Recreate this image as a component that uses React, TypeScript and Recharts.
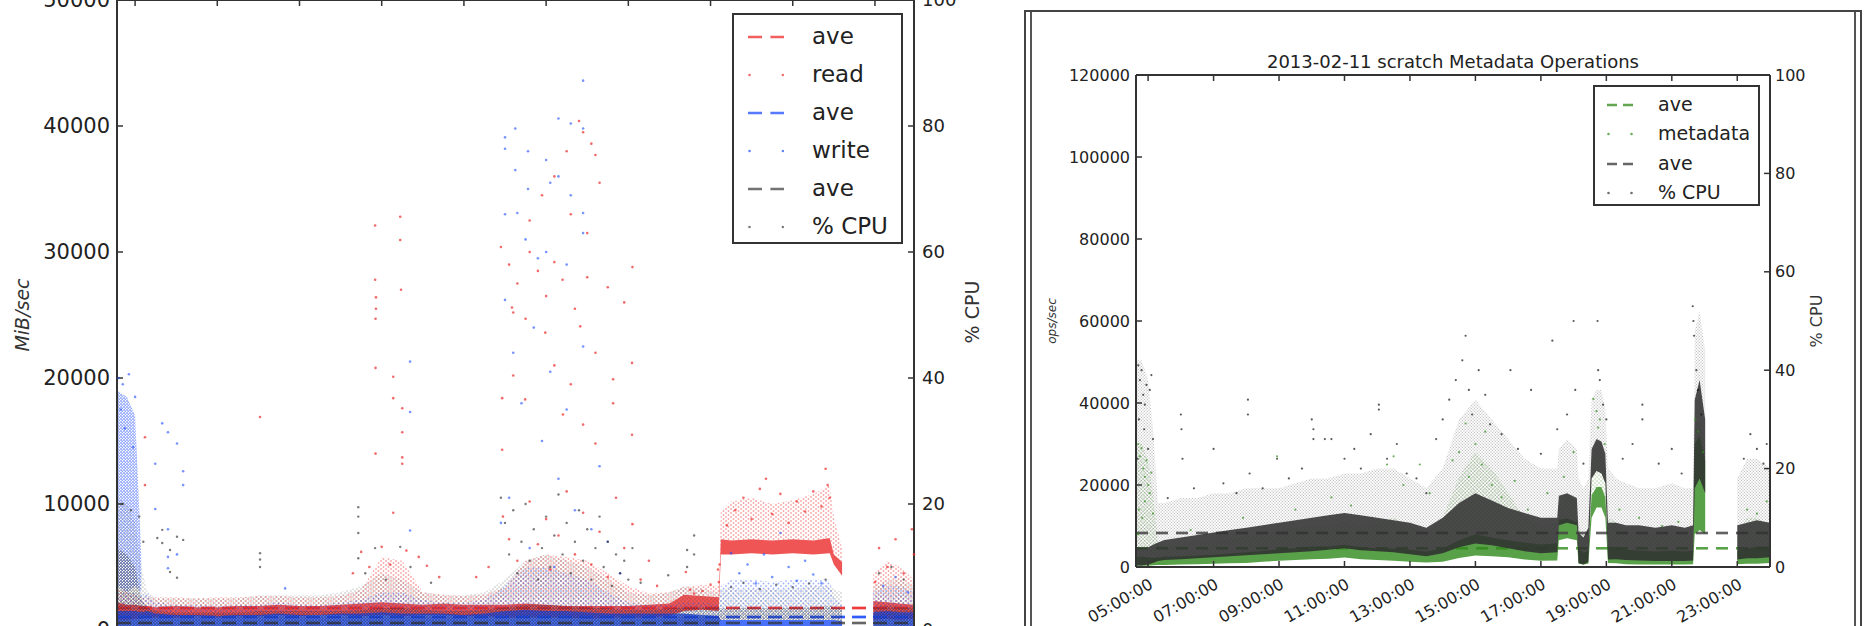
import { ComposedChart, Area, Scatter, XAxis, YAxis } from 'recharts';

const FONT = '"DejaVu Sans", sans-serif';
const INK = '#222';
const SPINE = '#333';

const RED = '#ec2a2a';
const BLUE = '#1d4dfa';
const GREEN = '#2f8a1a';

const HOUR_TICKS = [5, 7, 9, 11, 13, 15, 17, 19, 21, 23];
const MIB_TICKS = [0, 10000, 20000, 30000, 40000, 50000];
const OPS_TICKS = [0, 20000, 40000, 60000, 80000, 100000, 120000];
const CPU_TICKS = [0, 20, 40, 60, 80, 100];

// ---------- left panel: I/O (MiB/sec) and % CPU, hours of the day ----------
const L_T = [
  4.56, 4.8, 5.0, 5.15, 5.3, 5.5,
  6, 6.5, 7, 7.5, 8, 8.5,
  9, 9.5, 10, 10.5, 11, 11.5,
  12, 12.5, 13, 13.5, 14, 14.5,
  15, 15.5, 16, 16.5, 17, 17.5,
  18, 18.35, 18.8, 19.2, 19.25, 19.5,
  20, 20.5, 21, 21.5, 21.9, 22.0,
  22.2, 22.5, 22.96, 23.3, 23.6, 23.95,
];
const L_READ_LO = [
  800, 800, 900, 900, 1000, 1000,
  1000, 1100, 1000, 1100, 1100, 1200,
  1100, 1200, 1200, 1100, 1200, 1100,
  1200, 1200, 1100, 1100, 1000, 1000,
  1000, 1000, 900, 1000, 1000, 1000,
  1100, 1500, 1600, 1500, 6000, 6000,
  6100, 6000, 6100, 6000, 6100, 5200,
  4300, null, 800, 900, 800, 900,
];
const L_READ_HI = [
  2200, 2000, 2000, 1900, 1900, 1800,
  1900, 1800, 1800, 1900, 1900, 2000,
  1900, 1900, 2000, 2100, 2200, 2100,
  2000, 2100, 2000, 2000, 2000, 2100,
  2000, 1900, 1900, 1900, 1900, 2000,
  2100, 2800, 2700, 2600, 7200, 7100,
  7200, 7100, 7200, 7100, 7300, 6000,
  5400, null, 2300, 2200, 2100, 2000,
];
const L_READ_SPARSE = [
  3200, 3000, 2800, 2600, 2600, 2600,
  2600, 2500, 2600, 2600, 2700, 2700,
  2600, 2600, 2700, 3200, 5800, 5500,
  3000, 2800, 2700, 2800, 3400, 5500,
  6000, 5800, 5500, 4500, 3500, 2900,
  3000, 3400, 3600, 3500, 9500, 10200,
  10500, 10000, 10300, 10800, 11500, 9000,
  6500, null, 4500, 5500, 5000, 4000,
];
const L_WRITE_HI = [
  1500, 1500, 1500, 1400, 1500, 1300,
  1200, 1200, 1100, 1200, 1200, 1300,
  1200, 1200, 1300, 1300, 1400, 1300,
  1300, 1300, 1200, 1300, 1500, 1600,
  1500, 1500, 1400, 1300, 1300, 1300,
  1300, 1300, 1200, 1100, 800, 800,
  800, 800, 800, 800, 800, 800,
  700, null, 1400, 1500, 1400, 1400,
];
const L_WRITE_SPARSE = [
  3000, 3000, 3000, 2800, 3000, 2200,
  2000, 2000, 1900, 2000, 2000, 2200,
  2000, 2000, 2200, 2400, 3000, 3000,
  2400, 2200, 2200, 2400, 3500, 5000,
  5000, 4500, 4000, 3000, 2200, 2000,
  2000, 2200, 2200, 2000, 3500, 4000,
  4000, 3800, 4000, 4000, 4000, 2500,
  2000, null, 3000, 3500, 3500, 3000,
];
// the early-morning write burst
const L_BURST_LO = [
  3500, 3000, 3500, 3000, null, null,
  ...Array(42).fill(null),
];
const L_BURST_HI = [
  19000, 18500, 17000, 6000, null, null,
  ...Array(42).fill(null),
];
const L_CPU_LO = [
  0, 0, 0, 0.3, 0.5, 0.5,
  0.5, 0.5, 0.5, 0.5, 0.5, 0.5,
  0.5, 0.5, 0.5, 0.5, 0.5, 0.5,
  0.5, 0.5, 0.5, 0.5, 0.5, 0.5,
  0.5, 0.5, 0.5, 0.5, 0.5, 0.5,
  0.5, 0.5, 0.5, 0.5, 1.6, 1.6,
  1.6, 1.6, 1.6, 1.6, 1.6, 1.6,
  1.2, null, 0.5, 0.5, 0.5, 0.5,
];
const L_CPU_HI = [
  13, 12, 10, 5, 3.5, 3,
  2.8, 2.8, 2.8, 2.8, 3, 3,
  3, 3, 3, 3.2, 3.5, 3.5,
  3.2, 3, 3, 3.2, 3.6, 4,
  4, 3.8, 3.6, 3.4, 3.2, 3.2,
  3.4, 3.6, 3.6, 3.6, 3.4, 3.4,
  3.6, 3.4, 3.6, 3.6, 3.8, 3.6,
  3.4, null, 3.6, 3.8, 3.6, 3.6,
];
const L_CPU_SPARSE = [
  21, 20, 17, 10, 6, 5,
  5, 5, 5, 5, 5.5, 5.5,
  5.5, 5.5, 6, 7, 9, 8,
  6, 5.5, 5.5, 6, 8, 11,
  12, 11, 10, 8, 6, 5.5,
  6, 7, 6.5, 6, 6.5, 6.5,
  6.5, 6.5, 6.5, 7, 7, 6.5,
  6, null, 7, 8, 8, 7,
];
const AVE_READ = 1750;
const AVE_WRITE = 1030;
const AVE_L_CPU = 1.1;

// outliers [hour, value]
const READ_DOTS: [number, number][] = [
  [5.24, 15300], [5.24, 11500], [8.04, 16900],
  [10.84, 32100], [10.84, 27800], [10.86, 26400], [10.86, 25500], [10.85, 24700], [10.85, 20800], [10.85, 14000],
  [11.45, 32800], [11.45, 30950], [11.47, 27000], [11.28, 20100], [11.28, 18400], [11.28, 9300],
  [11.5, 17600], [11.5, 15700], [11.5, 13700], [11.5, 13200],
  [10.3, 4500], [10.5, 6200], [10.7, 5000], [11.0, 6600], [11.2, 5200], [11.6, 6300], [11.9, 5800], [12.1, 5100], [12.4, 4200],
  [13.93, 18400], [14.17, 25600], [14.2, 25200], [14.2, 20200], [13.93, 14300], [14.49, 18300], [14.5, 24700],
  [14.98, 23600], [15.2, 21000], [15.41, 17100], [15.6, 19500], [15.83, 24100], [15.9, 16300], [16.2, 22000],
  [16.2, 14800], [16.63, 19900], [16.63, 18000], [17.09, 21200], [17.09, 15500],
  [13.9, 30400], [14.1, 29000], [14.3, 27500], [14.6, 30000], [14.8, 28500], [15.0, 26500], [15.2, 29200],
  [15.4, 27800], [15.7, 25500], [16.0, 28000], [16.5, 27200], [16.9, 26000], [17.1, 28800],
  [15.8, 40400], [15.9, 39500], [16.1, 38600], [16.2, 37700], [15.5, 38000], [15.2, 36000], [14.9, 34500],
  [15.6, 33000], [16.3, 35500], [16.0, 31500], [14.6, 32500],
  [13.3, 4200], [13.6, 5000], [13.95, 9000], [14.1, 7200], [14.3, 5500], [14.6, 10200], [14.8, 6800], [15.0, 8800],
  [15.1, 4800], [15.3, 7500], [15.5, 11000], [15.7, 6000], [15.9, 9300], [16.1, 5200], [16.3, 7800], [16.5, 4200],
  [16.7, 10500], [16.9, 6500], [17.1, 8400], [17.3, 4000], [17.5, 5500], [17.7, 3500],
  [18.4, 4600], [18.5, 3200], [18.6, 2900], [18.8, 3100], [19.0, 3600], [19.18, 4800], [19.2, 3800], [19.22, 5200],
  [19.4, 8300], [19.6, 9500], [19.8, 10500], [20.0, 8800], [20.2, 11200], [20.35, 12000], [20.5, 9200], [20.7, 10800],
  [20.9, 8500], [21.1, 10200], [21.3, 9400], [21.5, 11000], [21.7, 9800], [21.8, 12800], [21.85, 11500], [21.9, 10500],
  [23.0, 3800], [23.1, 6500], [23.3, 5000], [23.5, 7200], [23.7, 4500], [23.9, 8000], [23.95, 6000],
];
const WRITE_DOTS: [number, number][] = [
  [4.6, 20000], [4.7, 19500], [4.85, 20300], [5.0, 18500], [4.65, 17500], [4.75, 16000], [4.95, 14500],
  [5.66, 16400], [5.8, 15700], [6.02, 14800], [5.49, 13200], [6.17, 12600], [6.17, 11500], [5.49, 9600],
  [5.8, 8000], [5.8, 5800], [5.8, 4900], [6.02, 6000], [8.65, 3300], [11.69, 21300], [11.69, 17300], [11.69, 7900],
  [15.9, 43600], [15.3, 40600], [15.6, 40200], [15.9, 39800], [14.0, 39100], [14.0, 38200], [14.25, 39800],
  [14.56, 38000], [14.25, 36500], [14.56, 35000], [14.3, 33100], [15.0, 37300], [15.3, 36000], [15.6, 34500],
  [15.9, 33100], [15.1, 35500], [14.0, 33000], [14.5, 31000], [15.0, 30000], [15.5, 29000], [15.9, 31500], [14.8, 29500],
  [14.0, 26200], [14.2, 22000], [14.4, 18000], [14.7, 24000], [14.9, 15000], [15.1, 20500], [15.3, 12000],
  [15.5, 17500], [15.7, 9500], [15.9, 22500], [16.1, 8000], [16.3, 13000], [16.5, 7000], [14.1, 10500],
  [14.6, 6500], [15.2, 5000], [16.8, 4500], [13.9, 8500],
  [19.5, 6100], [19.7, 4500], [19.9, 5200], [20.1, 3700], [20.3, 6000], [20.5, 4200], [20.7, 7700], [20.9, 5000],
  [21.1, 3900], [21.3, 5500], [21.5, 4400], [21.7, 3700], [23.2, 3500], [23.5, 4200], [23.8, 3000],
];
const L_CPU_DOTS: [number, number][] = [
  [4.7, 20], [4.9, 19], [5.1, 18], [5.2, 14],
  [5.66, 15.9], [5.54, 14.6], [5.66, 13.8], [5.85, 12.7], [5.85, 9.2], [6.02, 14.8], [6.17, 14.3], [6.02, 8.3],
  [8.04, 12.2], [8.04, 11.2], [8.04, 10], [10.43, 19.5], [10.43, 18], [10.43, 15.4], [10.43, 11.4],
  [10.84, 13], [11.45, 13.2], [10.6, 9], [11.1, 8], [11.7, 10], [12.2, 7.5],
  [13.9, 21], [14.0, 17], [14.1, 12], [14.2, 19], [14.3, 9], [14.4, 14], [14.5, 20], [14.6, 11], [14.7, 16],
  [14.8, 8], [14.9, 13], [15.0, 18], [15.1, 10], [15.2, 15], [15.3, 21.5], [15.4, 12], [15.5, 17], [15.6, 9],
  [15.7, 14], [15.8, 19], [15.9, 11], [16.0, 16], [16.1, 8], [16.2, 13], [16.3, 18], [16.4, 10], [16.5, 14],
  [16.6, 7], [16.7, 12], [16.8, 9], [16.9, 11], [17.0, 8], [17.1, 13], [17.3, 7.5],
  [17.97, 8.7], [18.43, 12.7], [18.43, 10], [18.6, 15], [18.6, 12],
  [19.5, 6.8], [19.8, 7.5], [20.2, 6.5], [20.6, 7.2], [21.0, 6.8], [21.4, 7.4], [21.8, 8],
  [23.1, 9], [23.4, 10], [23.7, 8],
];

// ---------- right panel: metadata ops/sec and % CPU ----------
const R_T = [
  4.63, 4.8, 5.0, 5.15, 5.3, 5.5,
  6, 6.5, 7, 7.5, 8, 8.5,
  9, 9.5, 10, 10.5, 11, 11.5,
  12, 12.5, 13, 13.5, 14, 14.5,
  15, 15.5, 16, 16.5, 17, 17.5,
  17.55, 17.8, 18.1, 18.15, 18.3, 18.45,
  18.55, 18.7, 18.85, 18.97, 19.05, 19.3,
  19.6, 20, 20.5, 21, 21.4, 21.65,
  21.7, 21.85, 22.02, 22.5, 23.0, 23.3,
  23.6, 24.0,
];
const R_META_LO = [
  300, 300, 300, 400, 500, 500,
  600, 700, 800, 900, 1000, 1300,
  1500, 1700, 1900, 2000, 2300, 1900,
  1700, 1500, 1300, 1100, 1300, 2200,
  2800, 2600, 2400, 1800, 1500, 1600,
  6500, 7000, 6500, 800, 600, 800,
  12000, 14500, 14500, 12000, 1000, 900,
  700, 600, 600, 600, 600, 700,
  8000, 9000, 8000, null, 700, 800,
  800, 1000,
];
const R_META_HI = [
  2500, 2500, 2400, 2200, 2300, 2500,
  2600, 2800, 3000, 3300, 3600, 3900,
  4300, 4600, 5000, 5000, 5400, 4800,
  4600, 4500, 4200, 3800, 4500, 6500,
  8000, 7200, 6500, 6000, 5500, 5800,
  11500, 11800, 11000, 4500, 3500, 4000,
  17500, 19500, 19500, 17000, 5000, 4800,
  4200, 4000, 3800, 4000, 3800, 4000,
  30000, 32000, 26000, null, 4000, 4500,
  5000, 5000,
];
const R_META_SPARSE = [
  30000, 30000, 26000, 18000, 6000, 5000,
  5500, 6000, 6500, 7000, 7500, 8000,
  9000, 9500, 10000, 10000, 11000, 10000,
  11000, 12000, 10000, 8000, 12000, 22000,
  28000, 24000, 18000, 12000, 10000, 11000,
  16000, 18000, 16000, 10000, 8000, 9000,
  26000, 30000, 30000, 24000, 12000, 11000,
  9000, 8000, 8000, 9000, 8000, 8000,
  34000, 36000, 30000, null, 8000, 12000,
  12000, 10000,
];
const R_CPU_LO = [
  0.3, 0.3, 0.5, 0.8, 1.2, 1.4,
  1.6, 1.8, 2, 2.2, 2.4, 2.6,
  2.8, 3, 3.2, 3.5, 3.8, 3.4,
  3.2, 3, 2.6, 2.2, 2.8, 4,
  4.8, 4.4, 3.8, 3.2, 2.8, 3,
  8.5, 9, 8.5, 0.8, 0.5, 1,
  18, 19.5, 19, 17, 1.5, 1.6,
  1.4, 1.3, 1.2, 1.2, 1.2, 1.3,
  16, 18, 15, null, 1.5, 1.8,
  1.8, 2,
];
const R_CPU_HI = [
  4, 4, 4, 4.5, 5, 5.5,
  6, 6.5, 7, 7.5, 8, 8.5,
  9, 9.5, 10, 10.5, 11, 10.5,
  10, 9.5, 9, 8, 10, 13,
  15, 13.5, 12, 11, 10, 10,
  14.5, 15, 14, 7, 6, 8,
  24, 26, 25.5, 23, 9, 9,
  8.5, 8.5, 8, 8.5, 8, 8.5,
  34, 38, 30, null, 8.5, 9,
  9.5, 9,
];
const R_CPU_SPARSE = [
  42, 42, 38, 28, 13, 13,
  14, 14, 15, 15, 16, 16,
  16, 17, 18, 18, 19, 19,
  20, 20, 18, 16, 20, 30,
  34, 30, 26, 22, 20, 20,
  24, 26, 24, 18, 16, 18,
  34, 36, 36, 32, 20, 18,
  17, 16, 16, 17, 16, 16,
  48, 52, 44, null, 18, 22,
  22, 20,
];
const AVE_META = 4600;
const AVE_R_CPU = 6.9;

const META_DOTS: [number, number][] = [
  [4.7, 30000], [4.75, 27000], [4.8, 29000], [4.85, 24000], [4.9, 22000], [4.95, 26000], [5.0, 20000],
  [5.05, 18000], [5.1, 23000], [4.72, 14000], [4.82, 12000], [4.9, 16000], [5.15, 13000], [4.68, 8000],
  [6.3, 9000], [7.9, 12000], [8.94, 27000], [9.5, 14000], [10.6, 17000], [11.2, 15000], [12.3, 25000],
  [12.5, 27000], [12.8, 20000], [13.3, 25000], [13.6, 18000], [14.3, 26000], [14.5, 28000], [14.7, 35000],
  [14.8, 22000], [15.0, 30000], [15.2, 25000], [15.3, 33000], [15.5, 20000], [15.8, 17000], [16.2, 21000],
  [16.6, 14000], [17.2, 18000], [17.7, 22000], [18.0, 28000], [18.6, 41000], [18.7, 38000], [18.75, 34000],
  [18.8, 36000], [18.95, 30000], [19.4, 14000], [20.0, 12000], [20.7, 10000], [21.2, 11000], [21.72, 36000],
  [21.8, 33000], [21.95, 28000], [23.3, 14000], [23.6, 13000], [23.9, 16000],
];
const R_CPU_DOTS: [number, number][] = [
  [4.7, 41], [4.75, 38], [4.8, 40], [4.85, 35], [4.9, 33], [4.95, 37], [5.05, 36], [5.1, 39], [4.72, 30],
  [4.88, 28], [5.15, 26], [4.68, 22], [5.0, 24], [6.0, 31], [6.02, 28], [6.05, 22], [5.6, 14], [6.4, 16],
  [7.0, 24], [7.3, 17], [7.7, 15], [8.05, 34], [8.05, 31], [8.1, 19], [8.5, 16], [8.94, 22], [9.3, 18],
  [9.7, 20], [10.0, 30], [10.05, 28], [10.05, 26], [10.4, 26], [10.6, 26], [11.0, 22], [11.3, 24], [11.5, 20],
  [11.8, 27], [12.05, 33], [12.05, 32], [12.3, 22], [12.6, 25], [12.9, 19], [13.2, 18], [13.5, 15], [13.8, 26],
  [14.0, 30], [14.2, 34], [14.4, 38], [14.6, 42], [14.7, 47], [14.8, 36], [14.9, 31], [15.1, 40], [15.3, 35],
  [15.45, 29], [15.8, 27], [16.07, 40], [16.3, 24], [16.7, 36], [17.0, 23], [17.35, 46], [17.5, 28], [17.8, 31],
  [18.0, 50], [18.05, 36], [18.3, 21], [18.73, 50], [18.75, 40], [18.8, 38], [18.9, 33], [19.0, 30], [19.5, 22],
  [19.8, 25], [20.1, 33], [20.1, 30], [20.6, 21], [21.0, 24], [21.3, 19], [21.64, 53], [21.66, 50], [21.68, 47],
  [21.75, 40], [21.8, 36], [21.9, 31], [23.2, 22], [23.4, 27], [23.6, 24], [23.8, 21], [23.9, 25],
];

type LegendItem = { label: string; color: string; kind: 'dash' | 'dot' };
const LEFT_LEGEND: LegendItem[] = [
  { label: 'ave', color: RED, kind: 'dash' },
  { label: 'read', color: RED, kind: 'dot' },
  { label: 'ave', color: BLUE, kind: 'dash' },
  { label: 'write', color: BLUE, kind: 'dot' },
  { label: 'ave', color: '#444', kind: 'dash' },
  { label: '% CPU', color: '#444', kind: 'dot' },
];
const RIGHT_LEGEND: LegendItem[] = [
  { label: 'ave', color: GREEN, kind: 'dash' },
  { label: 'metadata', color: GREEN, kind: 'dot' },
  { label: 'ave', color: '#333', kind: 'dash' },
  { label: '% CPU', color: '#333', kind: 'dot' },
];

// ---------- helpers ----------
function table(t: number[], cols: Record<string, (number | null)[]>) {
  return t.map((x, i) => {
    const row: Record<string, number | null> = { t: x };
    for (const k of Object.keys(cols)) row[k] = cols[k][i];
    return row;
  });
}
const band = (lo: string | number, hi: string) => (r: any) => {
  const a = typeof lo === 'number' ? lo : r[lo];
  return a == null || r[hi] == null ? null : [a, r[hi]];
};
const flat = (v: number) => () => [v, v];
const toPts = (pts: [number, number][]) => pts.map(([t, v]) => ({ t, v }));
const dot = (color: string, r = 1.2, op = 0.85) => (p: any) =>
  <circle cx={p.cx} cy={p.cy} r={r} fill={color} fillOpacity={op} />;

const speckle = (id: string, color: string, w: number, h: number, op: number, r = 0.85) => (
  <pattern id={id} width={w} height={h} patternUnits="userSpaceOnUse">
    <circle cx={1} cy={1} r={r} fill={color} fillOpacity={op} />
    <circle cx={w / 2 + 1} cy={h / 2 + 1} r={r} fill={color} fillOpacity={op} />
  </pattern>
);

const LEFT_ROWS = table(L_T, {
  rLo: L_READ_LO, rHi: L_READ_HI, rSp: L_READ_SPARSE,
  wHi: L_WRITE_HI, wSp: L_WRITE_SPARSE, bLo: L_BURST_LO, bHi: L_BURST_HI,
  cLo: L_CPU_LO, cHi: L_CPU_HI, cSp: L_CPU_SPARSE,
});
const RIGHT_ROWS = table(R_T, {
  mLo: R_META_LO, mHi: R_META_HI, mSp: R_META_SPARSE,
  cLo: R_CPU_LO, cHi: R_CPU_HI, cSp: R_CPU_SPARSE,
});

const spine = { stroke: SPINE, strokeWidth: 2 };
const tickLine = { stroke: SPINE, strokeWidth: 1.5 };

function HourTick(props: any) {
  const { x, y, payload } = props;
  const label = `${String(payload.value).padStart(2, '0')}:00:00`;
  return (
    <text x={x} y={y} dy={12} transform={`rotate(-30 ${x} ${y})`} textAnchor="end"
      fontSize={16} fill={INK} fontFamily={FONT}>{label}</text>
  );
}

function LegendBox({ items, x, y, w, h, rows, font, sampleX, textX, dash }: {
  items: LegendItem[]; x: number; y: number; w: number; h: number; rows: number[];
  font: number; sampleX: number; textX: number; dash: number;
}) {
  return (
    <div style={{
      position: 'absolute', left: x, top: y, width: w, height: h, boxSizing: 'border-box',
      border: `2px solid ${SPINE}`, background: '#fff', fontFamily: FONT, fontSize: font, color: INK,
    }}>
      {items.map((it, i) => (
        <div key={i}>
          <svg width={dash * 2.6} height={10}
            style={{ position: 'absolute', left: sampleX, top: rows[i] - 5 }}>
            {it.kind === 'dash' ? (
              <line x1={0} x2={dash * 2.6} y1={5} y2={5} stroke={it.color} strokeWidth={2.5}
                strokeDasharray={`${dash} ${dash * 0.6}`} strokeOpacity={0.75} />
            ) : (
              <g fill={it.color} fillOpacity={0.7}>
                <circle cx={1.5} cy={5} r={1.3} />
                <circle cx={dash * 2.6 - 1.5} cy={5} r={1.3} />
              </g>
            )}
          </svg>
          <span style={{
            position: 'absolute', left: textX, top: rows[i] - font * 0.62, lineHeight: `${font * 1.2}px`,
            whiteSpace: 'nowrap',
          }}>{it.label}</span>
        </div>
      ))}
    </div>
  );
}

function VLabel({ text, cx, cy, size, italic }: { text: string; cx: number; cy: number; size: number; italic?: boolean }) {
  return (
    <div style={{
      position: 'absolute', left: cx - 100, top: cy - size, width: 200, height: size * 2,
      lineHeight: `${size * 2}px`, textAlign: 'center', transform: 'rotate(-90deg)',
      fontSize: size, fontStyle: italic ? 'italic' : 'normal', color: '#333', whiteSpace: 'nowrap',
    }}>{text}</div>
  );
}

function LeftPanel() {
  const dom: [number, number] = [4.56, 23.95];
  const common = { xAxisId: 'b', isAnimationActive: false, type: 'linear' as const, dot: false, activeDot: false };
  return (
    <div style={{ position: 'absolute', left: 0, top: -20 }}>
      <ComposedChart width={1010} height={700} data={LEFT_ROWS} margin={{ top: 0, right: 0, bottom: 0, left: 0 }}>
        <defs>
          {speckle('lRed', RED, 5, 4, 0.7, 0.9)}
          {speckle('lBlue', BLUE, 5, 5, 0.7, 0.9)}
          {speckle('lBlueDense', BLUE, 3, 3, 0.85, 1.0)}
          {speckle('lBlack', '#333', 4, 4, 0.55, 0.8)}
          {speckle('lBlackDense', '#1a1a1a', 3, 3, 0.75, 0.95)}
        </defs>
        <XAxis xAxisId="b" dataKey="t" type="number" domain={dom} ticks={HOUR_TICKS} height={50}
          tick={false} tickSize={-6} axisLine={spine} tickLine={tickLine} />
        <XAxis xAxisId="t" orientation="top" dataKey="t" type="number" domain={dom} ticks={HOUR_TICKS}
          height={20} interval={0} tickFormatter={() => ''} tickSize={-6} axisLine={spine} tickLine={tickLine} />
        <YAxis yAxisId="mib" width={117} domain={[0, 50000]} ticks={MIB_TICKS} interval={0}
          tickSize={-6} tickMargin={13} axisLine={spine} tickLine={tickLine}
          tick={{ fontSize: 21, fill: INK, fontFamily: FONT }} />
        <YAxis yAxisId="cpu" orientation="right" width={96} domain={[0, 100]} ticks={CPU_TICKS} interval={0}
          tickSize={-6} tickMargin={14} axisLine={spine} tickLine={tickLine}
          tick={{ fontSize: 18, fill: INK, fontFamily: FONT }} />

        <Area {...common} yAxisId="mib" dataKey={flat(AVE_READ)} stroke={RED} strokeOpacity={0.7} strokeWidth={2.5}
          strokeDasharray="14 7" fill="none" />
        <Area {...common} yAxisId="mib" dataKey={band('rHi', 'rSp')} stroke="none" fill="url(#lRed)" />
        <Area {...common} yAxisId="mib" dataKey={band('rLo', 'rHi')} stroke="none" fill={RED} fillOpacity={0.8} />
        <Scatter xAxisId="b" yAxisId="mib" data={toPts(READ_DOTS)} dataKey="v" isAnimationActive={false}
          shape={dot(RED, 1.3, 0.7)} />

        <Area {...common} yAxisId="mib" dataKey={flat(AVE_WRITE)} stroke={BLUE} strokeOpacity={0.7} strokeWidth={2.5}
          strokeDasharray="14 7" fill="none" />
        <Area {...common} yAxisId="mib" dataKey={band('wHi', 'wSp')} stroke="none" fill="url(#lBlue)" />
        <Area {...common} yAxisId="mib" dataKey={band('bLo', 'bHi')} stroke="none" fill="url(#lBlueDense)" />
        <Area {...common} yAxisId="mib" dataKey={band(0, 'wHi')} stroke="none" fill={BLUE} fillOpacity={0.8} />
        <Scatter xAxisId="b" yAxisId="mib" data={toPts(WRITE_DOTS)} dataKey="v" isAnimationActive={false}
          shape={dot(BLUE, 1.3, 0.6)} />

        <Area {...common} yAxisId="cpu" dataKey={flat(AVE_L_CPU)} stroke="#333" strokeOpacity={0.5} strokeWidth={2.5}
          strokeDasharray="14 7" fill="none" />
        <Area {...common} yAxisId="cpu" dataKey={band('cHi', 'cSp')} stroke="none" fill="url(#lBlack)" />
        <Area {...common} yAxisId="cpu" dataKey={band('cLo', 'cHi')} stroke="none" fill="url(#lBlackDense)" />
        <Scatter xAxisId="b" yAxisId="cpu" data={toPts(L_CPU_DOTS)} dataKey="v" isAnimationActive={false}
          shape={dot('#222', 1.2, 0.6)} />
      </ComposedChart>
    </div>
  );
}

function RightPanel() {
  const dom: [number, number] = [4.63, 24.0];
  const common = { xAxisId: 'b', isAnimationActive: false, type: 'linear' as const, dot: false, activeDot: false };
  return (
    <div style={{ position: 'absolute', left: 1040, top: 40 }}>
      <ComposedChart width={830} height={600} data={RIGHT_ROWS} margin={{ top: 0, right: 0, bottom: 0, left: 0 }}>
        <defs>
          {speckle('rGreen', GREEN, 4, 4, 0.7, 0.8)}
          {speckle('rBlack', '#222', 3, 3, 0.45, 0.75)}
        </defs>
        <XAxis xAxisId="b" dataKey="t" type="number" domain={dom} ticks={HOUR_TICKS} height={73} interval={0}
          tickSize={-6} tickMargin={16} axisLine={spine} tickLine={tickLine} tick={<HourTick />} />
        <XAxis xAxisId="t" orientation="top" dataKey="t" type="number" domain={dom} ticks={HOUR_TICKS}
          height={35} interval={0} tickFormatter={() => ''} tickSize={-6} axisLine={spine} tickLine={tickLine} />
        <YAxis yAxisId="ops" width={96} domain={[0, 120000]} ticks={OPS_TICKS} interval={0}
          tickSize={-6} tickMargin={12} axisLine={spine} tickLine={tickLine}
          tick={{ fontSize: 16, fill: INK, fontFamily: FONT }} />
        <YAxis yAxisId="cpu" orientation="right" width={100} domain={[0, 100]} ticks={CPU_TICKS} interval={0}
          tickSize={-6} tickMargin={11} axisLine={spine} tickLine={tickLine}
          tick={{ fontSize: 16, fill: INK, fontFamily: FONT }} />

        <Area {...common} yAxisId="ops" dataKey={flat(AVE_META)} stroke={GREEN} strokeOpacity={0.55} strokeWidth={2.5}
          strokeDasharray="12 8" fill="none" />
        <Area {...common} yAxisId="ops" dataKey={band('mHi', 'mSp')} stroke="none" fill="url(#rGreen)" />
        <Area {...common} yAxisId="ops" dataKey={band('mLo', 'mHi')} stroke="none" fill={GREEN} fillOpacity={0.8} />
        <Scatter xAxisId="b" yAxisId="ops" data={toPts(META_DOTS)} dataKey="v" isAnimationActive={false}
          shape={dot(GREEN, 1.1, 0.7)} />

        <Area {...common} yAxisId="cpu" dataKey={flat(AVE_R_CPU)} stroke="#444" strokeOpacity={0.6} strokeWidth={2.5}
          strokeDasharray="12 8" fill="none" />
        <Area {...common} yAxisId="cpu" dataKey={band('cHi', 'cSp')} stroke="none" fill="url(#rBlack)" />
        <Area {...common} yAxisId="cpu" dataKey={band('cLo', 'cHi')} stroke="none" fill="#303030" fillOpacity={0.88} />
        <Scatter xAxisId="b" yAxisId="cpu" data={toPts(R_CPU_DOTS)} dataKey="v" isAnimationActive={false}
          shape={dot('#111', 1.1, 0.7)} />
      </ComposedChart>
    </div>
  );
}

export default function App() {
  return (
    <div style={{
      position: 'absolute', left: 0, top: 0, width: 1866, height: 626, overflow: 'hidden',
      background: '#fff', fontFamily: FONT,
    }}>
      <LeftPanel />
      <VLabel text="MiB/sec" cx={22} cy={315} size={19} italic />
      <VLabel text="% CPU" cx={972} cy={312} size={19} />
      <LegendBox items={LEFT_LEGEND} x={732} y={13} w={171} h={231} rows={[22, 60, 98, 136, 174, 212]}
        font={23} sampleX={14} textX={78} dash={14} />

      {/* right figure frame */}
      <div style={{
        position: 'absolute', left: 1024, top: 10, width: 838, height: 700, boxSizing: 'border-box',
        borderLeft: '2px solid #444', borderRight: '2px solid #444', borderTop: '2px solid #444',
      }} />
      <div style={{
        position: 'absolute', left: 1030, top: 12, width: 826, height: 700, boxSizing: 'border-box',
        borderLeft: '2px solid #555', borderRight: '2px solid #555',
      }} />
      <div style={{
        position: 'absolute', left: 1153, width: 600, top: 51, textAlign: 'center',
        fontSize: 18, lineHeight: '22px', color: INK, whiteSpace: 'nowrap',
      }}>2013-02-11 scratch Metadata Operations</div>
      <RightPanel />
      <VLabel text="ops/sec" cx={1052} cy={321} size={12} italic />
      <VLabel text="% CPU" cx={1817} cy={321} size={16} />
      <LegendBox items={RIGHT_LEGEND} x={1593} y={85} w={167} h={121} rows={[18, 47, 77, 106]}
        font={19} sampleX={12} textX={63} dash={10} />
    </div>
  );
}
